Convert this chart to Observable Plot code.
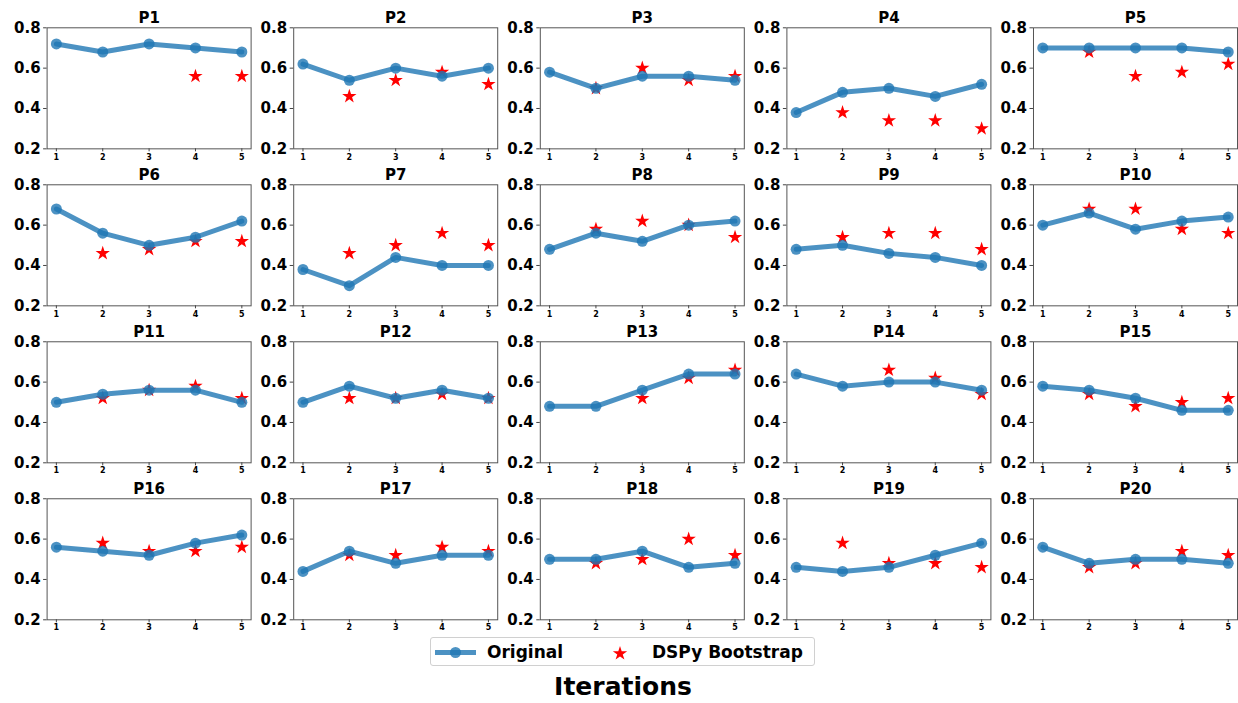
<!DOCTYPE html>
<html>
<head>
<meta charset="utf-8">
<script src="https://cdn.jsdelivr.net/npm/d3@7"></script>
<script src="https://cdn.jsdelivr.net/npm/@observablehq/plot@0.6"></script>
<style>
  html, body { margin: 0; padding: 0; background: #fff; }
  #wrap { position: relative; width: 1238px; height: 703px; font-family: "DejaVu Sans", sans-serif; }
  #chart { position: absolute; left: 0; top: 0; }
  #legend { position: absolute; left: 430px; top: 637px; width: 385px; height: 29px; border: 1px solid #d0d0d0; border-radius: 3px; box-sizing: border-box; }
  #legend svg { position: absolute; left: 0; top: 0; }
  .lt { position: absolute; top: 3px; font-weight: bold; font-size: 17px; color: #000; line-height: 22px; }
  #xlabel { position: absolute; left: 0; width: 1246px; text-align: center; top: 672px; font-weight: bold; font-size: 25px; line-height: 30px; color: #000; }
</style>
</head>
<body>
<div id="wrap">
  <div id="chart"></div>
  <div id="legend">
    <svg width="385" height="29"></svg>
    <span class="lt" style="left:56px">Original</span>
    <span class="lt" style="left:221px">DSPy Bootstrap</span>
  </div>
  <div id="xlabel">Iterations</div>
</div>
<script>
const panels = ["P1","P2","P3","P4","P5","P6","P7","P8","P9","P10","P11","P12","P13","P14","P15","P16","P17","P18","P19","P20"];
const iterations = [1, 2, 3, 4, 5];
const yTicks = [0.2, 0.4, 0.6, 0.8];
const seriesNames = ["Original", "DSPy Bootstrap"];

const original = [
  [0.72,0.68,0.72,0.70,0.68],
  [0.62,0.54,0.60,0.56,0.60],
  [0.58,0.50,0.56,0.56,0.54],
  [0.38,0.48,0.50,0.46,0.52],
  [0.70,0.70,0.70,0.70,0.68],
  [0.68,0.56,0.50,0.54,0.62],
  [0.38,0.30,0.44,0.40,0.40],
  [0.48,0.56,0.52,0.60,0.62],
  [0.48,0.50,0.46,0.44,0.40],
  [0.60,0.66,0.58,0.62,0.64],
  [0.50,0.54,0.56,0.56,0.50],
  [0.50,0.58,0.52,0.56,0.52],
  [0.48,0.48,0.56,0.64,0.64],
  [0.64,0.58,0.60,0.60,0.56],
  [0.58,0.56,0.52,0.46,0.46],
  [0.56,0.54,0.52,0.58,0.62],
  [0.44,0.54,0.48,0.52,0.52],
  [0.50,0.50,0.54,0.46,0.48],
  [0.46,0.44,0.46,0.52,0.58],
  [0.56,0.48,0.50,0.50,0.48]
];

const bootstrap = [
  [null,null,null,0.56,0.56],
  [null,0.46,0.54,0.58,0.52],
  [null,0.50,0.60,0.54,0.56],
  [null,0.38,0.34,0.34,0.30],
  [null,0.68,0.56,0.58,0.62],
  [null,0.46,0.48,0.52,0.52],
  [null,0.46,0.50,0.56,0.50],
  [null,0.58,0.62,0.60,0.54],
  [null,0.54,0.56,0.56,0.48],
  [null,0.68,0.68,0.58,0.56],
  [null,0.52,0.56,0.58,0.52],
  [null,0.52,0.52,0.54,0.52],
  [null,null,0.52,0.62,0.66],
  [null,null,0.66,0.62,0.54],
  [null,0.54,0.48,0.50,0.52],
  [null,0.58,0.54,0.54,0.56],
  [null,0.52,0.52,0.56,0.54],
  [null,0.48,0.50,0.60,0.52],
  [null,0.58,0.48,0.48,0.46],
  [null,0.46,0.48,0.54,0.52]
];

const blue = "#1f77b4";
const NCOL = 5;

function tidy(arr) {
  const rows = [];
  arr.forEach((vals, i) => {
    vals.forEach((v, j) => {
      if (v != null) rows.push({panel: panels[i], col: i % NCOL, row: Math.floor(i / NCOL), iter: iterations[j], value: v});
    });
  });
  return rows;
}
const origData = tidy(original);
const bootData = tidy(bootstrap);
const titleData = panels.map((p, i) => ({panel: p, col: i % NCOL, row: Math.floor(i / NCOL)}));

const chart = Plot.plot({
  width: 1238,
  height: 634,
  marginLeft: 46.6,
  marginRight: 1,
  marginTop: 27.3,
  marginBottom: 14.7,
  style: {fontFamily: "DejaVu Sans, sans-serif", background: "white", color: "#000"},
  fx: {axis: null, domain: [0,1,2,3,4], paddingInner: 0.1727, paddingOuter: 0, round: false},
  fy: {axis: null, domain: [0,1,2,3], paddingInner: 0.229, paddingOuter: 0, round: false},
  x: {domain: [0.8, 5.2]},
  y: {domain: [0.2, 0.8]},
  marks: [
    Plot.frame({stroke: "#555", strokeWidth: 1}),
    Plot.axisY({ticks: yTicks, tickFormat: d3.format(".1f"), tickSize: 3.5, tickPadding: 3, stroke: "#444", fontSize: 15, fontWeight: "bold", label: null, facetAnchor: null}),
    Plot.axisX({ticks: iterations, tickFormat: d3.format("d"), tickSize: 3, tickPadding: 2, stroke: "#444", fontSize: 8, fontWeight: "bold", label: null, facetAnchor: null}),
    Plot.text(titleData, {fx: "col", fy: "row", text: "panel", frameAnchor: "top", lineAnchor: "bottom", dy: -5, fontSize: 15, fontWeight: "bold", fill: "#000"}),
    Plot.dot(bootData, {fx: "col", fy: "row", x: "iter", y: "value", symbol: "star", r: 4.5, fill: "red", stroke: "none"}),
    Plot.line(origData, {fx: "col", fy: "row", x: "iter", y: "value", z: "panel", stroke: blue, strokeWidth: 5, strokeOpacity: 0.8}),
    Plot.dot(origData, {fx: "col", fy: "row", x: "iter", y: "value", r: 5.5, fill: blue, fillOpacity: 0.8, stroke: "none"})
  ]
});
document.getElementById("chart").appendChild(chart);

// Legend swatches
const lsvg = d3.select("#legend svg");
lsvg.append("line").attr("x1", 4).attr("x2", 45).attr("y1", 14.5).attr("y2", 14.5)
  .attr("stroke", blue).attr("stroke-width", 5).attr("stroke-opacity", 0.8);
lsvg.append("circle").attr("cx", 24.5).attr("cy", 14.5).attr("r", 5.5).attr("fill", blue).attr("fill-opacity", 0.8);
lsvg.append("path").attr("d", d3.symbol(d3.symbolStar, Math.PI * 4.5 * 4.5)())
  .attr("transform", "translate(189,15.5)").attr("fill", "red");
</script>
</body>
</html>
